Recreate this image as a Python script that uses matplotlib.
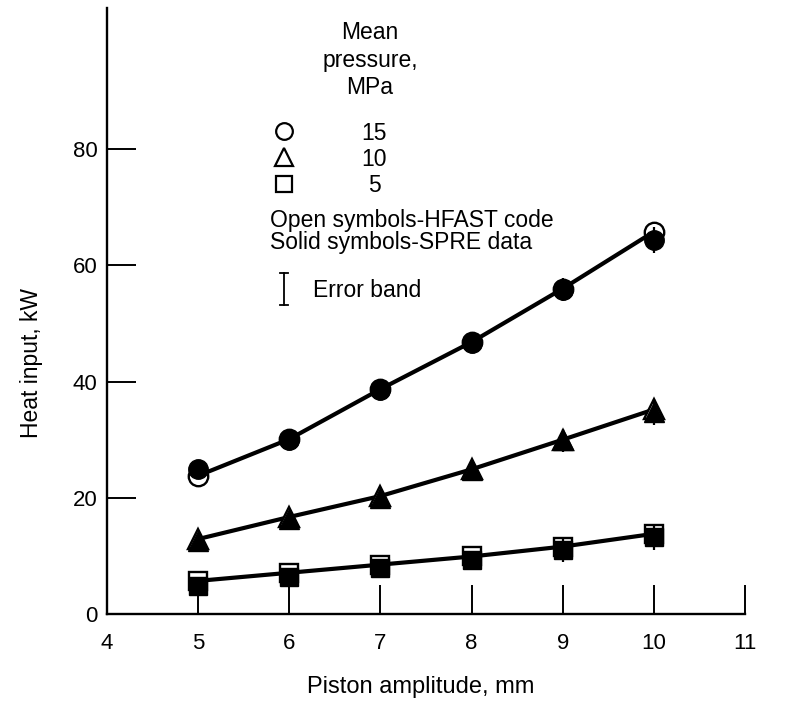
import matplotlib.pyplot as plt
from matplotlib.lines import Line2D

plt.rcParams["font.family"] = ["Liberation Sans", "DejaVu Sans"]

# piston amplitude, mm
amplitude = [5, 6, 7, 8, 9, 10]

# HFAST code (open symbols, the line follows these)
hfast_15 = [23.8, 30.1, 38.7, 46.8, 56.0, 65.8]
hfast_10 = [12.9, 16.7, 20.3, 24.9, 30.0, 35.2]
hfast_5 = [5.7, 7.1, 8.5, 9.9, 11.6, 13.8]

# SPRE data (solid symbols)
spre_15 = [24.9, 29.9, 38.6, 46.6, 55.8, 64.4]
spre_10 = [12.6, 16.4, 20.0, 24.8, 29.9, 34.8]
spre_5 = [4.8, 6.3, 7.9, 9.3, 11.0, 13.2]
spre_err = [1.0, 1.0, 1.2, 1.4, 2.0, 2.2]

x_ticks = [4, 5, 6, 7, 8, 9, 10, 11]
y_ticks = [0, 20, 40, 60, 80]

W, H = 794, 703


def fx(px):
    return px / W


def fy(py):
    return 1 - py / H


fig = plt.figure(figsize=(W / 100, H / 100), dpi=100)
ax = fig.add_axes([fx(107), fy(614), (745 - 107) / W, (614 - 8) / H])

series = [
    (hfast_15, spre_15, "o", 14),
    (hfast_10, spre_10, "^", 15),
    (hfast_5, spre_5, "s", 13.5),
]
for hfast, spre, marker, ms in series:
    ax.plot(amplitude, hfast, color="black", lw=3.0, zorder=2)
    ax.plot(amplitude, hfast, ls="none", marker=marker, ms=ms,
            mfc="white", mec="black", mew=1.7, zorder=3)
    ax.errorbar(amplitude, spre, yerr=spre_err, fmt=marker, ms=ms,
                color="black", mfc="black", mec="black", ecolor="black",
                elinewidth=1.6, capsize=0, zorder=4)

ax.set_xlim(4, 11)
ax.set_ylim(0, 104.3)
ax.set_xticks(x_ticks)
ax.set_yticks(y_ticks)
ax.tick_params(axis="both", direction="in", length=21, width=1.4,
               labelsize=16, color="black")
ax.tick_params(axis="x", pad=14)
ax.tick_params(axis="y", pad=7)
for side in ["top", "right"]:
    ax.spines[side].set_visible(False)
for side in ["left", "bottom"]:
    ax.spines[side].set_linewidth(1.7)

ax.set_xlabel("Piston amplitude, mm", fontsize=17)
ax.xaxis.set_label_coords((421 - 107) / 638, -(676 - 614) / 606)
ax.set_ylabel("Heat input, kW", fontsize=16.5)
ax.yaxis.set_label_coords((43 - 107) / 638, (614 - 363) / 606)

# legend block, drawn in figure pixels
fig.text(fx(370), fy(60), "Mean\npressure,\nMPa", ha="center", va="center",
         fontsize=16.5, linespacing=1.25)
legend_rows = [("o", 12, "15", 133), ("^", 13, "10", 159), ("s", 12, "5", 186)]
for marker, ms, label, py in legend_rows:
    fig.add_artist(Line2D([fx(284)], [fy(py - 2)], marker=marker, ms=ms,
                          mfc="white", mec="black", mew=1.6,
                          transform=fig.transFigure))
    fig.text(fx(374), fy(py), label, ha="center", va="center", fontsize=16.5)

fig.text(fx(270), fy(220), "Open symbols-HFAST code", ha="left",
         va="center", fontsize=16.5)
fig.text(fx(270), fy(242), "Solid symbols-SPRE data", ha="left",
         va="center", fontsize=16.5)

# error band symbol
fig.add_artist(Line2D([fx(284), fx(284)], [fy(273), fy(305)], color="black",
                      lw=1.3, transform=fig.transFigure))
for py in (273, 305):
    fig.add_artist(Line2D([fx(280), fx(288)], [fy(py), fy(py)], color="black",
                          lw=1.3, transform=fig.transFigure))
fig.text(fx(313), fy(290), "Error band", ha="left", va="center", fontsize=16.5)

fig.savefig("out.png", dpi=100)
